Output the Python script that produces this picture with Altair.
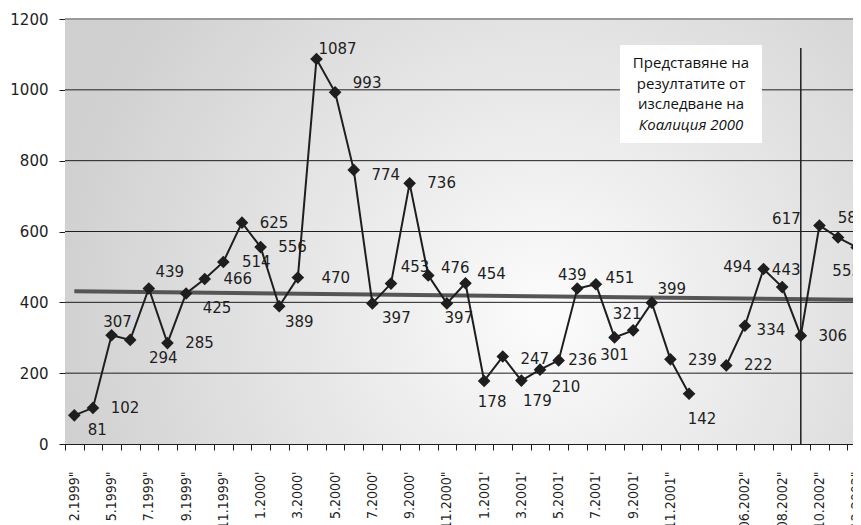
import json
import altair as alt
import pandas as pd

# ---------------- data ----------------
values = [81, 102, 307, 294, 439, 285, 425, 466, 514, 625,
          556, 389, 470, 1087, 993, 774, 397, 453, 736, 476,
          397, 454, 178, 247, 179, 210, 236, 439, 451, 301,
          321, 399, 239, 142, None, 222, 334, 494, 443, 306,
          617, 583, 555]

label_text_at = {
    0: '2.1999"', 2: '5.1999"', 4: '7.1999"', 6: '9.1999"', 8: '11.1999"',
    10: "1.2000'", 12: "3.2000'", 14: "5.2000'", 16: "7.2000'", 18: "9.2000'",
    20: '11.2000"', 22: "1.2001'", 24: "3.2001'", 26: "5.2001'", 28: "7.2001'",
    30: "9.2001'", 32: '11.2001"', 36: '06.2002"', 38: '08.2002"',
    40: '10.2002"', 42: '12.2002"',
}
x_labels = [label_text_at.get(i, "") for i in range(len(values))]

y_ticks = [0, 200, 400, 600, 800, 1000, 1200]
grid_values = [200, 400, 600, 800, 1000]
y_max = 1200
event_index = 39
event_top = 1118
note_lines = ["Представяне на", "резултатите от", "изследване на"]
note_italic = "Коалиция 2000"

# label placement (pixel nudges relative to each point) -- style only
label_nudge = {
    0: (23, 15), 1: (32, 0), 2: (6, -13), 3: (33, 18), 4: (21, -17), 5: (32, 0),
    6: (31, 15), 7: (33, 0), 8: (33, 0), 9: (32, 0), 10: (32, 0), 11: (20, 16),
    12: (38, 0), 13: (21, -10), 14: (32, -9), 15: (32, 5), 16: (24, 15),
    17: (24, -17), 18: (32, 0), 19: (27, -7), 20: (12, 15), 21: (26, -9),
    22: (8, 21), 23: (32, 2), 24: (16, 20), 25: (26, 17), 26: (24, 0),
    27: (-5, -14), 28: (24, -6), 29: (0, 18), 30: (-6, -16), 31: (20, -14),
    32: (32, 1), 33: (13, 25), 35: (32, 0), 36: (26, 4), 37: (-26, -2),
    38: (4, -17), 39: (32, 0), 40: (-33, -6), 41: (14, -20), 42: (-10, 24),
}

# ---------------- layout ----------------
W, H = 801, 425
n = len(values)
band = W / n

seg, s = [], 0
for v in values:
    if v is None:
        s += 1
    seg.append(s)

df = pd.DataFrame({
    "i": list(range(n)),
    "v": values,
    "label": ["" if v is None else str(v) for v in values],
    "dx": [label_nudge.get(i, (0, 0))[0] + band / 2 for i in range(n)],
    "dy": [label_nudge.get(i, (0, 0))[1] for i in range(n)],
    "seg": seg,
})

INK = "#1e1e1e"
NUM_FONT = "DejaVu Sans"

x_scale = alt.Scale(domain=list(range(n)), paddingInner=0, paddingOuter=0)
y_scale = alt.Scale(domain=[0, y_max])

x_axis = alt.Axis(
    title=None, labelExpr=json.dumps(x_labels) + "[datum.value]",
    labelAngle=-90, labelAlign="right", labelBaseline="middle", labelPadding=21,
    tickBand="extent", tickSize=6, tickColor=INK, domainColor=INK, grid=False,
    labelFont="Liberation Sans Narrow, DejaVu Sans Condensed, Roboto", labelFontSize=14,
    labelColor=INK, labelOverlap=False,
)
y_axis = alt.Axis(
    title=None, values=y_ticks, format="d", grid=False, tickSize=6, tickColor=INK,
    domainColor=INK, labelPadding=11, labelFont=NUM_FONT, labelFontSize=15,
    labelColor=INK,
)

x_enc = alt.X("i:O", scale=x_scale, axis=x_axis)
y_enc = alt.Y("v:Q", scale=y_scale, axis=y_axis)

one = pd.DataFrame({"k": [0]})

bg = alt.Chart(one).mark_rect(
    fill={"gradient": "radial",
          "stops": [{"offset": 0, "color": "#fcfcfc"}, {"offset": 1, "color": "#d0d0d0"}],
          "x1": 0.6, "y1": 0.6, "r1": 0, "x2": 0.6, "y2": 0.6, "r2": 0.62}
).encode(x=alt.value(0), x2=alt.value(W), y=alt.value(0), y2=alt.value(H))

grid = alt.Chart(pd.DataFrame({"v": grid_values})).mark_rule(
    color=INK, strokeWidth=1).encode(y=y_enc)

top_border = alt.Chart(pd.DataFrame({"v": [y_max]})).mark_rule(
    color="#9a9a9a", strokeWidth=2).encode(y=y_enc)

trend = alt.Chart(df).transform_filter("isValid(datum.v)").transform_regression(
    "i", "v").mark_line(color="#555555", strokeWidth=4).encode(x=x_enc, y=y_enc)

event = alt.Chart(pd.DataFrame({"i": [event_index], "v": [0], "v2": [event_top]})).mark_rule(
    color=INK, strokeWidth=1.5).encode(x=x_enc, y=y_enc, y2="v2:Q")

line = alt.Chart(df).transform_filter("isValid(datum.v)").mark_line(
    color=INK, strokeWidth=2).encode(x=x_enc, y=y_enc, detail="seg:N")

pts = alt.Chart(df).transform_filter("isValid(datum.v)").mark_point(
    shape="diamond", filled=True, size=160, color=INK, opacity=1).encode(x=x_enc, y=y_enc)

labels = alt.Chart(df).transform_filter("isValid(datum.v)").transform_calculate(
    ly=f"datum.v - datum.dy * {y_max} / {H}"
).mark_text(
    font=NUM_FONT, fontSize=15, color=INK, align="center", baseline="middle"
).encode(
    x=x_enc,
    y=alt.Y("ly:Q", scale=y_scale, axis=y_axis),
    xOffset=alt.XOffset("dx:Q", scale=None),
    text="label:N",
)

note_box = alt.Chart(one).mark_rect(fill="white").encode(
    x=alt.value(555), x2=alt.value(697), y=alt.value(26), y2=alt.value(124))

note_text = alt.Chart(one).mark_text(
    text=note_lines, font="Open Sans", fontSize=15, lineHeight=20.5, color="#111",
    align="center", baseline="alphabetic").encode(x=alt.value(626), y=alt.value(49))

note_text2 = alt.Chart(one).mark_text(
    text=note_italic, font="Open Sans", fontSize=15, fontStyle="italic", color="#111",
    align="center", baseline="alphabetic").encode(x=alt.value(626), y=alt.value(111))

chart = alt.layer(
    bg, grid, top_border, trend, event, line, pts, labels, note_box, note_text, note_text2
).properties(
    width=W, height=H,
    autosize=alt.AutoSizeParams(type="none"),
    padding={"left": 57, "top": 11, "right": -13, "bottom": 81},
    background="white",
).configure_view(stroke=None)

chart.save("out.html", embed_options={"renderer": "svg", "actions": False})
